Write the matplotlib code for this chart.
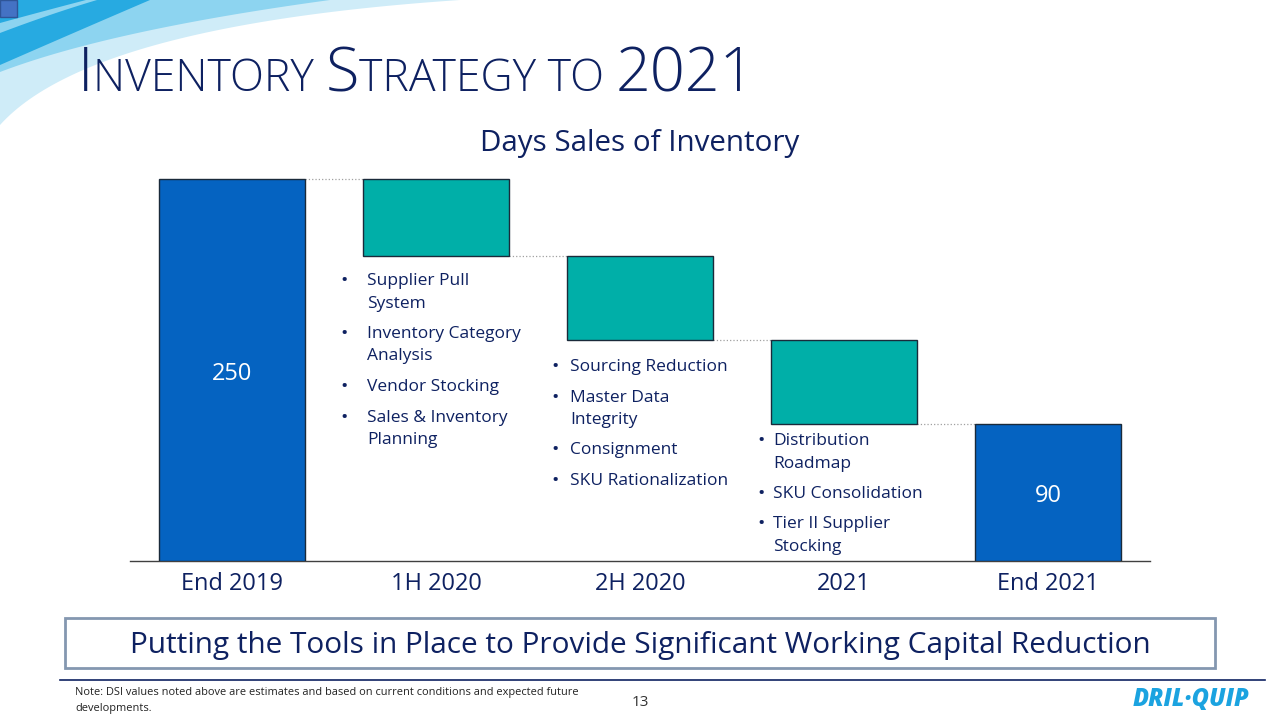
import numpy as np
import matplotlib.pyplot as plt
from matplotlib.patches import Rectangle, Polygon

# data
categories = ['End 2019', '1H 2020', '2H 2020', '2021', 'End 2021']
changes = [250, -50, -55, -55, None]     # None -> total bar
kinds = ['total', 'step', 'step', 'step', 'total']
bar_labels = {0: '250', 4: '90'}

bullets = [
    (1, ['Supplier Pull\nSystem', 'Inventory Category\nAnalysis', 'Vendor Stocking',
         'Sales & Inventory\nPlanning']),
    (2, ['Sourcing Reduction', 'Master Data\nIntegrity', 'Consignment', 'SKU Rationalization']),
    (3, ['Distribution\nRoadmap', 'SKU Consolidation', 'Tier II Supplier\nStocking']),
]

NAVY = '#0E2161'
BLUE = '#0563C1'
TEAL = '#00AFA8'
FONT = ['Open Sans', 'DejaVu Sans']
plt.rcParams['font.family'] = FONT

W, H = 1280, 720
fig = plt.figure(figsize=(12.8, 7.2), dpi=100)

# background axes in pixel coords (y down)
bg = fig.add_axes([0, 0, 1, 1])
bg.set_xlim(0, W)
bg.set_ylim(H, 0)
bg.axis('off')


def curve(p0, p1, p2, n=60):
    t = np.linspace(0, 1, n)[:, None]
    p0, p1, p2 = map(np.array, (p0, p1, p2))
    return (1 - t) ** 2 * p0 + 2 * (1 - t) * t * p1 + t ** 2 * p2


# top-left swooshes
c = curve((0, 125), (90, 25), (460, 0))
bg.add_patch(Polygon(np.vstack([c, [[0, 0]]]), color='#CFECF8', lw=0))
c = curve((0, 72), (110, 30), (330, 0))
bg.add_patch(Polygon(np.vstack([c, [[0, 0]]]), color='#8DD4F0', lw=0))
c1 = curve((150, 0), (80, 30), (0, 65))
c2 = curve((0, 33), (50, 14), (97, 0))
bg.add_patch(Polygon(np.vstack([c1, c2]), color='#27AAE1', lw=0))
c = curve((86, 0), (40, 12), (0, 23))
bg.add_patch(Polygon(np.vstack([c, [[0, 0]]]), color='#27AAE1', lw=0))
bg.add_patch(Rectangle((0, 0), 17, 17, facecolor='#4472C4', edgecolor='#2F5597', lw=1))

# small-caps title
pieces = [('I', 44), ('NVENTORY ', 32), ('S', 44), ('TRATEGY TO ', 32), ('2021', 44)]
fig.canvas.draw()
renderer = fig.canvas.get_renderer()
x = 78
for txt, size in pieces:
    t = bg.text(x, 91, txt, fontsize=size, color=NAVY, ha='left', va='baseline',
                fontweight='light')
    bb = t.get_window_extent(renderer=renderer)
    x += bb.width

bg.text(640, 144, 'Days Sales of Inventory', fontsize=21.3, color=NAVY,
        ha='center', va='center')

# waterfall chart
ax = fig.add_axes([130 / W, 1 - 561 / H, 1020 / W, 397 / H])
level = 0
bottoms, heights, colors = [], [], []
for i, (ch, k) in enumerate(zip(changes, kinds)):
    if k == 'total':
        if ch is not None:
            level = ch
        bottoms.append(0)
        heights.append(level)
        colors.append(BLUE)
    else:
        bottoms.append(level + ch)
        heights.append(-ch)
        colors.append(TEAL)
        level += ch
xs = np.arange(len(categories))
ax.bar(xs, heights, bottom=bottoms, width=0.715, color=colors,
       edgecolor='#1A2A3A', linewidth=1.0, zorder=3)
tops = [b + h for b, h in zip(bottoms, heights)]
for i in range(len(xs) - 1):
    y = tops[i] if kinds[i] == 'total' else bottoms[i]
    ax.plot([xs[i] + 0.3575, xs[i + 1] - 0.3575], [y, y], ls=':', color='#A0A0A0',
            lw=0.9, zorder=2)
for i, lab in bar_labels.items():
    ax.annotate(lab, (xs[i], heights[i] / 2), xytext=(0, -3), textcoords='offset points',
                color='white', fontsize=17, ha='center', va='center', zorder=4)
ax.set_xlim(-0.5, len(xs) - 0.5)
ax.set_ylim(0, 260)
ax.set_xticks(xs)
ax.set_xticklabels(categories, fontsize=17, color=NAVY)
ax.tick_params(axis='x', length=0, pad=8)
ax.set_yticks([])
for s in ['top', 'left', 'right']:
    ax.spines[s].set_visible(False)
ax.spines['bottom'].set_color('#404040')
ax.spines['bottom'].set_linewidth(1.0)
ax.patch.set_alpha(0)

# bullet notes: (bullet x, text x, first line y)
anchors = {1: (344, 367, 281), 2: (555, 570, 367), 3: (761, 773, 441)}
for idx, items in bullets:
    bx, tx, y = anchors[idx]
    for item in items:
        lines = item.split('\n')
        bg.text(bx, y, '\u2022', fontsize=14, color=NAVY, ha='center', va='center')
        for ln in lines:
            bg.text(tx, y, ln, fontsize=12.5, color=NAVY, ha='left', va='center')
            y += 22.5
        y += 8

# bottom box
bg.add_patch(Rectangle((65, 618), 1150, 50, facecolor='white', edgecolor='#8497B0', lw=2))
bg.text(640, 645, 'Putting the Tools in Place to Provide Significant Working Capital Reduction',
        fontsize=21.4, color=NAVY, ha='center', va='center')

# footer
bg.plot([60, 1265], [680, 680], color=NAVY, lw=1.2)
bg.text(75, 693, 'Note: DSI values noted above are estimates and based on current conditions and expected future',
        fontsize=7.9, color='#222222', ha='left', va='center')
bg.text(75, 709, 'developments.', fontsize=7.9, color='#222222', ha='left', va='center')
bg.text(640, 702, '13', fontsize=11, color='#333333', ha='center', va='center')
bg.text(1191, 700, 'DRIL\u00b7QUIP', fontsize=17, color='#1BA3E0', ha='center', va='center',
        fontweight='heavy', fontstyle='italic')

fig.savefig('out.png', dpi=100)
